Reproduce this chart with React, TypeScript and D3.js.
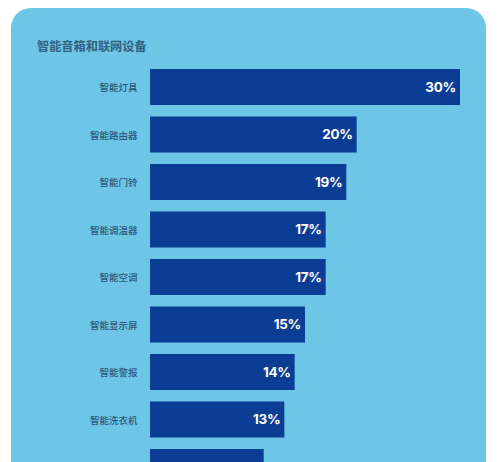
import { useMemo } from 'react';
import * as d3 from 'd3';

const title = '智能音箱和联网设备';
const categories = [
  '智能灯具',
  '智能路由器',
  '智能门铃',
  '智能调温器',
  '智能空调',
  '智能显示屏',
  '智能警报',
  '智能洗衣机',
  '智能插座',
];
const values = [30, 20, 19, 17, 17, 15, 14, 13, 11];

const W = 500;
const H = 462;
const CARD = '#6ec6e6';
const BAR = '#0a3d93';
const LABEL = '#2a5679';

export default function App() {
  const x = useMemo(() => d3.scaleLinear().domain([0, 30]).range([150, 460]), []);
  const y = useMemo(
    () =>
      d3
        .scaleBand<string>()
        .domain(categories)
        .range([63.25, 63.25 + categories.length * 47.5])
        .paddingInner(0.242)
        .paddingOuter(0.121),
    [],
  );

  return (
    <svg
      width={W}
      height={H}
      style={{ position: 'fixed', top: 0, left: 0, display: 'block' }}
      fontFamily="'Noto Sans CJK SC', 'Noto Sans', sans-serif"
    >
      <rect width={W} height={H} fill="#ffffff" />
      {/* card */}
      <rect x={11} y={8} width={475} height={500} rx={20} fill={CARD} />
      <text x={37} y={50.5} fontSize={12.2} fontWeight={600} fill="#33607f">
        {title}
      </text>
      {categories.map((c, i) => {
        const by = y(c) ?? 0;
        const bh = y.bandwidth();
        const xe = x(values[i]);
        // the last bar runs past the bottom edge, its texts are not shown
        const showText = by + bh / 2 + 8 < H;
        return (
          <g key={c}>
            <rect x={x(0)} y={by} width={xe - x(0)} height={bh} fill={BAR} />
            {showText && (
              <text
                x={137.5}
                y={by + bh / 2 + 1}
                dy="0.35em"
                textAnchor="end"
                fontSize={9.5}
                fontWeight={500}
                fill={LABEL}
              >
                {c}
              </text>
            )}
            {showText && (
              <text
                x={xe - 4}
                y={by + bh / 2}
                dy="0.36em"
                textAnchor="end"
                fontSize={13.5}
                fontWeight={700}
                fontFamily="Inter, 'Noto Sans', sans-serif"
                letterSpacing={-0.3}
                fill="#ffffff"
              >
                {values[i]}%
              </text>
            )}
          </g>
        );
      })}
    </svg>
  );
}
